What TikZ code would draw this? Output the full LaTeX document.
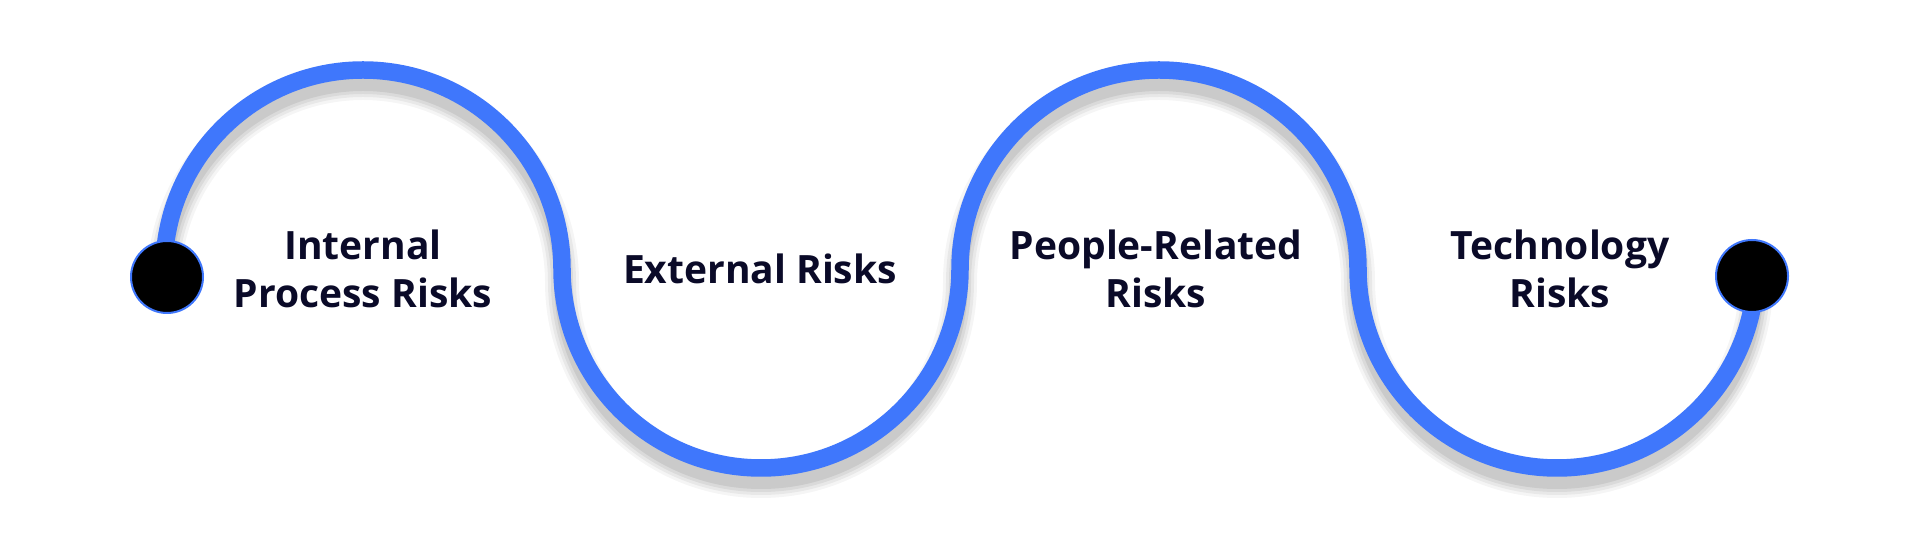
\documentclass[tikz,border=0pt]{standalone}
\usepackage{fontspec}
\setmainfont{Open Sans}
\definecolor{wave}{RGB}{63,119,252}
\definecolor{ink}{RGB}{10,10,40}
\begin{document}
\begin{tikzpicture}[x=0.5pt,y=0.5pt,
  wavepath/.style={line width=8.75pt,draw=wave},
  dotnode/.style={circle,fill=black,draw=wave,line width=1pt,minimum size=36pt,inner sep=0pt},
  label/.style={align=center,text=ink,font=\fontsize{19.5}{24}\selectfont\bfseries}]
\useasboundingbox (0,0) rectangle (1920,550);
\fill[white] (0,0) rectangle (1920,550);
% shadow
\begin{scope}[yshift=-6.5pt]
\foreach \w/\o in {17pt/0.04,14pt/0.05,11pt/0.06,8pt/0.07}{
  \draw[line width=\w,draw=black,opacity=\o]
    (164,281) arc[start angle=180,end angle=0,radius=99.5pt]
    arc[start angle=180,end angle=360,radius=99.5pt]
    arc[start angle=180,end angle=0,radius=99.5pt]
    arc[start angle=180,end angle=360,radius=99.5pt];
}
\end{scope}
\coordinate (a0) at (164,281);
\draw[wavepath] (a0) arc[start angle=180,end angle=0,radius=99.5pt] coordinate (a1)
    arc[start angle=180,end angle=360,radius=99.5pt] coordinate (a2)
    arc[start angle=180,end angle=0,radius=99.5pt] coordinate (a3)
    arc[start angle=180,end angle=360,radius=99.5pt] coordinate (a4);
\node[dotnode] (d1) at (167,273) {};
\node[dotnode] (d2) at (1752,274) {};
\node[label] (t1) at (363,281) {Internal\\Process Risks};
\node[label] (t2) at (760,281) {External Risks};
\node[label] (t3) at (1156,281) {People-Related\\Risks};
\node[label] (t4) at (1560,281) {Technology\\Risks};
\end{tikzpicture}
\end{document}
